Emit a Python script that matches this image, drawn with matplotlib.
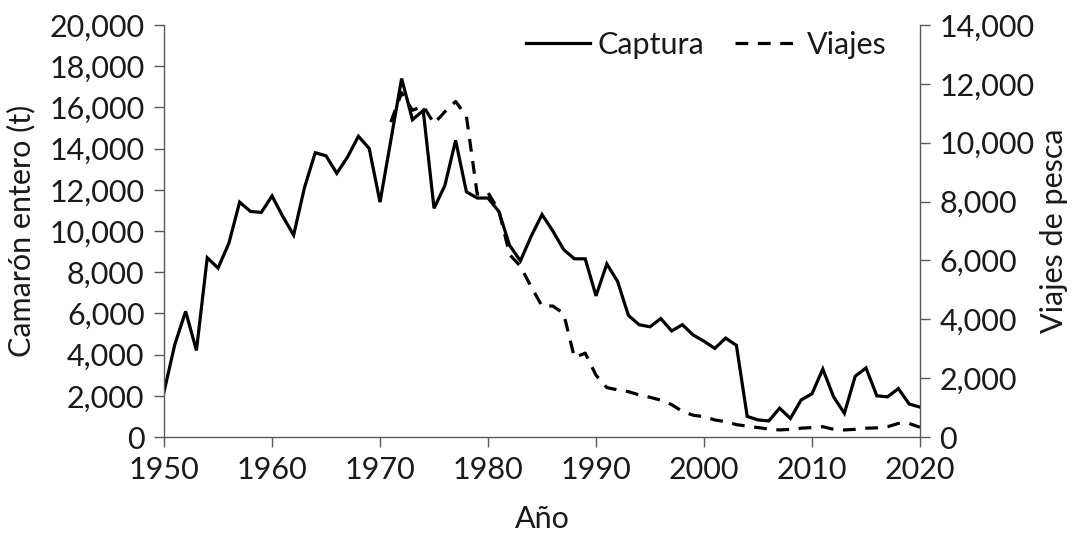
import numpy as np
import matplotlib.pyplot as plt
from matplotlib.ticker import FuncFormatter

plt.rcParams['font.family'] = ['Lato', 'DejaVu Sans']

anios = np.arange(1950, 2021)

captura = [2200, 4500, 6100, 4200, 8700, 8200, 9400, 11400, 10950, 10900,
           11700, 10700, 9800, 12100, 13800, 13650, 12800, 13600, 14600, 14000,
           11400, 14400, 17400, 15400, 15850, 11100, 12200, 14400, 11900, 11600,
           11600, 10950, 9300, 8550, 9750, 10800, 10000, 9100, 8650, 8650,
           6850, 8400, 7550, 5900, 5450, 5350, 5750, 5150, 5450, 4950,
           4650, 4300, 4800, 4450, 1000, 830, 780, 1400, 900, 1800,
           2100, 3300, 1950, 1150, 2950, 3350, 2000, 1950, 2350, 1600,
           1450]

# viajes registrados a partir de 1971
viajes = [np.nan] * 21 + [
    10700, 11700, 11100, 11250, 10650, 11050, 11400, 10900, 8250,
    8300, 7700, 6200, 5800, 5100, 4450, 4450, 4200, 2700, 2850,
    2100, 1680, 1600, 1540, 1430, 1350, 1250, 1100, 870, 740,
    690, 580, 520, 420, 370, 320, 270, 240, 260, 300,
    320, 350, 260, 240, 260, 300, 310, 350, 460, 460,
    330]

texto = '#1a1a1a'
eje = '#595959'
fs = 22

fig = plt.figure(figsize=(10.75, 5.36), dpi=100)
ax = fig.add_axes([0.1526, 0.1847, 0.7032, 0.7687])
ax2 = ax.twinx()

l1, = ax.plot(anios, captura, color='black', lw=2.3, solid_joinstyle='miter')
l2, = ax2.plot(anios, viajes, color='black', lw=2.3, dashes=(4.0, 3.0),
               dash_capstyle='butt')

ax.set_xlim(1950, 2020)
ax.set_ylim(0, 20000)
ax2.set_ylim(0, 14000)
ax.set_xticks(range(1950, 2021, 10))
ax.set_yticks(range(0, 20001, 2000))
ax2.set_yticks(range(0, 14001, 2000))

miles = FuncFormatter(lambda v, p: f'{int(v):,}')
ax.yaxis.set_major_formatter(miles)
ax2.yaxis.set_major_formatter(miles)

for a in (ax, ax2):
    a.spines['top'].set_visible(False)
    for s in a.spines.values():
        s.set_color(eje)
        s.set_linewidth(1.0)
    a.tick_params(direction='out', length=7, width=1.0, color=eje,
                  labelsize=fs, labelcolor=texto, pad=7)
ax.spines['right'].set_visible(False)
ax2.spines['left'].set_visible(False)
ax2.spines['bottom'].set_visible(False)

ax.set_xlabel('Año', fontsize=fs, color=texto, labelpad=15)
ax.set_ylabel('Camarón entero (t)', fontsize=fs, color=texto, labelpad=10)
ax2.set_ylabel('Viajes de pesca', fontsize=fs, color=texto, labelpad=4)

leg = ax.legend([l1, l2], ['Captura', 'Viajes'], loc='upper right',
                bbox_to_anchor=(0.956, 0.985), ncol=2, frameon=False,
                fontsize=fs, handlelength=2.1, handletextpad=0.25,
                columnspacing=1.0, borderaxespad=0, borderpad=0)
for t in leg.get_texts():
    t.set_color(texto)

fig.savefig('out.png', dpi=100)
